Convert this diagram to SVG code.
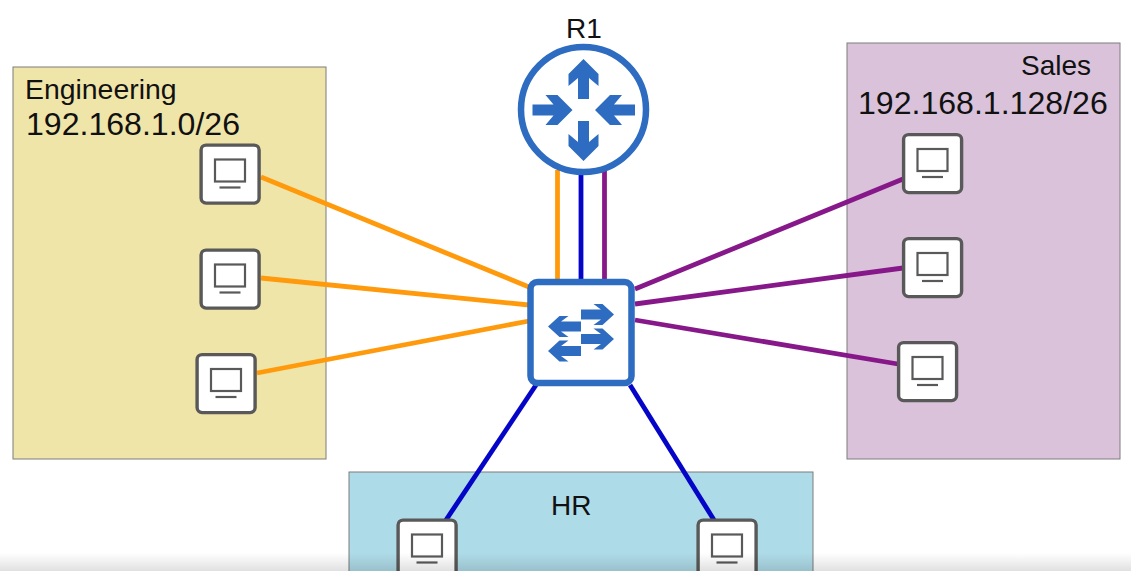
<svg xmlns="http://www.w3.org/2000/svg" width="1131" height="571" viewBox="0 0 1131 571">
<style>
.panel{stroke:#7d7d7d;stroke-width:1}
.t{font-family:"Liberation Sans",Arial,sans-serif;fill:#111}
.c{fill:none;stroke-width:4.8}
.o{stroke:#ff9a0d}.b{stroke:#0505c8}.p{stroke:#87188a}
.ic{fill:#2d6cc0}
.pcbox{fill:#fff;stroke:#595959;stroke-width:3.4}
.pcs{fill:none;stroke:#595959;stroke-width:2.2}
</style>
<defs>
<polygon id="ra" points="0,0 15,15 15,27 5.500,19 5.500,40 -5.500,40 -5.500,19 -15,27 -15,15"/>
<polygon id="sa" points="0,0 -11.500,-10.500 -20.500,-10.500 -13,-5 -33,-5 -33,5 -13,5 -20.500,10.500 -11.500,10.500"/>
<g id="pc">
<rect class="pcbox" x="1.600" y="1.600" width="58" height="58" rx="5"/>
<rect class="pcs" x="15.500" y="16" width="30" height="22"/>
<line class="pcs" x1="20" y1="44" x2="41" y2="44"/>
</g>
<linearGradient id="fade" x1="0" y1="0" x2="0" y2="1">
<stop offset="0" stop-color="#000" stop-opacity="0"/>
<stop offset="1" stop-color="#000" stop-opacity="0.12"/>
</linearGradient>
</defs>
<rect width="1131" height="571" fill="#fff"/>
<g id="panels">
<rect class="panel" x="13" y="67" width="313" height="392" fill="#f0e5a9"/>
<rect class="panel" x="847" y="43" width="273" height="416" fill="#dac3da"/>
<rect class="panel" x="349" y="472" width="464" height="110" fill="#aedbe8"/>
</g>
<g id="labels">
<text class="t" x="25" y="98.500" font-size="28.400">Engineering</text>
<text class="t" x="26" y="135" font-size="32.100">192.168.1.0/26</text>
<text class="t" x="1021" y="75" font-size="28">Sales</text>
<text class="t" x="858" y="114" font-size="32.100">192.168.1.128/26</text>
<text class="t" x="566" y="38" font-size="28">R1</text>
<text class="t" x="551" y="515" font-size="28">HR</text>
</g>
<g id="connectors">
<line class="c o" x1="261" y1="177" x2="529" y2="287"/>
<line class="c o" x1="261" y1="278" x2="529" y2="305"/>
<line class="c o" x1="257" y1="373" x2="529" y2="321"/>
<line class="c p" x1="635" y1="289" x2="903" y2="179"/>
<line class="c p" x1="635" y1="304" x2="903" y2="268"/>
<line class="c p" x1="635" y1="320" x2="898" y2="364"/>
<line class="c o" x1="557.500" y1="170" x2="557.500" y2="281"/>
<line class="c b" x1="581" y1="172" x2="581" y2="281"/>
<line class="c p" x1="604.500" y1="170" x2="604.500" y2="281"/>
<line class="c b" x1="536" y1="385" x2="446" y2="520"/>
<line class="c b" x1="630" y1="385" x2="714" y2="520"/>
</g>
<g id="R1">
<circle cx="583.500" cy="109.500" r="62.500" fill="#fff" stroke="#2d6cc0" stroke-width="6.500"/>
<use href="#ra" class="ic" transform="translate(583.500,59)"/>
<use href="#ra" class="ic" transform="translate(583.500,161) rotate(180)"/>
<use href="#ra" class="ic" transform="translate(572.500,110) rotate(90)"/>
<use href="#ra" class="ic" transform="translate(595,110) rotate(-90)"/>
</g>
<g id="switch">
<rect x="530.500" y="282" width="101" height="101" rx="7" fill="#fff" stroke="#2d6cc0" stroke-width="6.500"/>
<use href="#sa" class="ic" transform="translate(614,314.500)"/>
<use href="#sa" class="ic" transform="translate(614,339)"/>
<use href="#sa" class="ic" transform="translate(548,326.500) rotate(180)"/>
<use href="#sa" class="ic" transform="translate(548,351) rotate(180)"/>
</g>
<g id="pc-eng-1"><use href="#pc" x="199.500" y="143.500"/></g>
<g id="pc-eng-2"><use href="#pc" x="199.500" y="248.500"/></g>
<g id="pc-eng-3"><use href="#pc" x="195.500" y="353"/></g>
<g id="pc-sales-1"><use href="#pc" x="902" y="133"/></g>
<g id="pc-sales-2"><use href="#pc" x="902" y="237"/></g>
<g id="pc-sales-3"><use href="#pc" x="897" y="341"/></g>
<g id="pc-hr-1"><use href="#pc" x="396.500" y="518.500"/></g>
<g id="pc-hr-2"><use href="#pc" x="696.500" y="518.500"/></g>
<rect x="0" y="553" width="1131" height="18" fill="url(#fade)"/>
</svg>
